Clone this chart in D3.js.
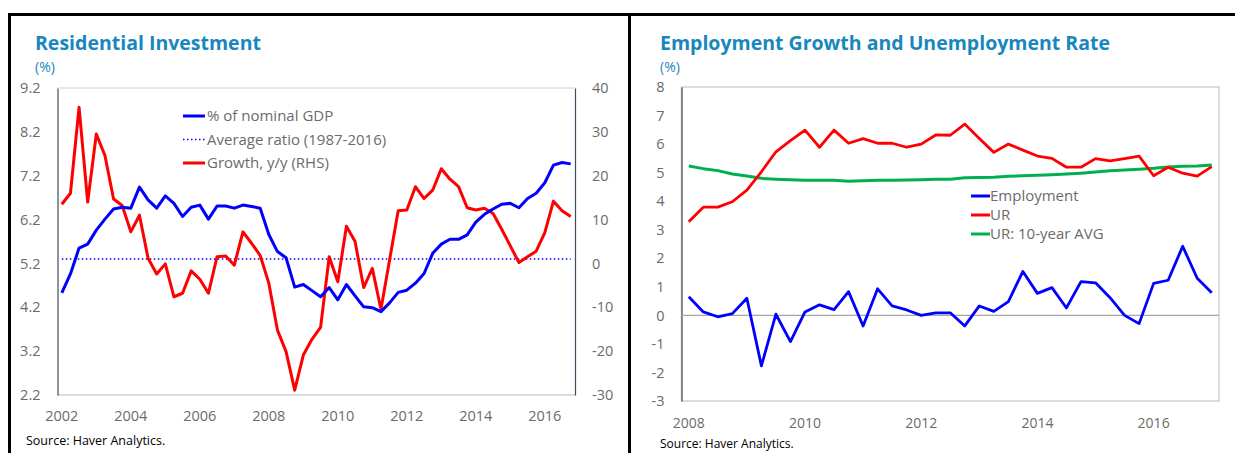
<!DOCTYPE html>
<html><head><meta charset="utf-8">
<script src="https://cdn.jsdelivr.net/npm/d3@7"></script>
<style>
html,body{margin:0;padding:0;background:#fff;}
svg{display:block;font-family:"Open Sans","Noto Sans",sans-serif;}
</style></head>
<body>
<svg id="c" width="1235" height="453"></svg>
<script>
// ---------- Data: Residential Investment (quarterly 2002Q1-2016Q4) ----------
const riTickYears = [2002,2004,2006,2008,2010,2012,2014,2016];
const riShareGDP = [4.53,4.96,5.55,5.64,5.96,6.21,6.44,6.48,6.46,6.94,6.65,6.46,6.74,6.57,6.27,6.48,
  6.53,6.21,6.51,6.51,6.46,6.53,6.50,6.46,5.86,5.47,5.33,4.66,4.72,4.58,4.44,4.65,
  4.37,4.72,4.46,4.21,4.19,4.10,4.30,4.54,4.59,4.75,4.97,5.43,5.64,5.75,5.75,5.85,
  6.14,6.32,6.44,6.55,6.57,6.47,6.68,6.80,7.04,7.44,7.50,7.47];
const riGrowth = [13.5,16.0,35.6,14.0,29.5,24.6,14.7,13.2,7.2,11.0,1.2,-2.4,-0.1,-7.6,-6.8,-1.7,
  -3.6,-6.8,1.55,1.7,-0.4,7.2,4.6,1.8,-4.5,-15.2,-20.1,-28.9,-20.9,-17.3,-14.6,1.5,
  -4.2,8.5,5.0,-5.5,-1.1,-10.5,0.8,12.0,12.2,17.5,14.8,16.7,21.6,19.2,17.5,12.7,
  12.2,12.6,11.4,7.8,4.0,0.2,1.5,2.8,7.0,14.2,12.0,10.7];
const riAverage = 5.3;
const riLeftTicks = [2.2,3.2,4.2,5.2,6.2,7.2,8.2,9.2];
const riRightTicks = [-30,-20,-10,0,10,20,30,40];
const riLegend = ["% of nominal GDP","Average ratio (1987-2016)","Growth, y/y (RHS)"];

// ---------- Data: Employment Growth and Unemployment Rate (2008Q1-2017Q1) ----------
const emTickYears = [2008,2010,2012,2014,2016];
const emEmployment = [0.65,0.12,-0.05,0.06,0.60,-1.77,0.04,-0.92,0.12,0.37,0.20,0.83,-0.37,0.93,0.33,0.19,
  0.0,0.09,0.09,-0.37,0.33,0.14,0.48,1.54,0.77,0.97,0.26,1.18,1.14,0.62,0.0,-0.29,
  1.12,1.23,2.42,1.30,0.79];
const emUR = [3.28,3.79,3.79,3.98,4.39,5.03,5.73,6.12,6.49,5.89,6.49,6.03,6.19,6.03,6.03,5.89,
  6.0,6.32,6.31,6.70,6.20,5.71,6.0,5.79,5.58,5.50,5.19,5.19,5.49,5.41,5.49,5.58,
  4.89,5.19,4.98,4.88,5.21];
const emURAvg = [5.23,5.14,5.07,4.95,4.88,4.80,4.77,4.75,4.73,4.73,4.73,4.70,4.72,4.73,4.73,4.74,
  4.75,4.77,4.77,4.82,4.83,4.84,4.87,4.89,4.91,4.93,4.95,4.98,5.02,5.07,5.09,5.12,
  5.15,5.20,5.22,5.23,5.27];
const emTicks = [-3,-2,-1,0,1,2,3,4,5,6,7,8];
const emLegend = ["Employment","UR","UR: 10-year AVG"];

// ---------- Styles ----------
const TITLE = "#1787bd", TICK = "#6b6b6b", DARK = "#3f4c5c", LIGHT = "#d0d0d0";
const BLUE = "#0000ff", RED = "#ff0000", GREEN = "#00b050";

const svg = d3.select("#c");

// quarter categories
function quarters(startYear, n){ const out=[]; for(let i=0;i<n;i++){ out.push((startYear+Math.floor(i/4))+"Q"+(i%4+1)); } return out; }

// outer frame
svg.append("line").attr("x1",8).attr("x2",1235).attr("y1",14.5).attr("y2",14.5).attr("stroke","#000").attr("stroke-width",3);
svg.append("line").attr("x1",9.5).attr("x2",9.5).attr("y1",13).attr("y2",453).attr("stroke","#000").attr("stroke-width",3);
svg.append("line").attr("x1",629.5).attr("x2",629.5).attr("y1",13).attr("y2",453).attr("stroke","#000").attr("stroke-width",3);

// ================= Left chart =================
(function(){
  const L=57.5, R=575, T=88, B=395;
  const cats = quarters(2002, riShareGDP.length);
  const x = d3.scaleBand().domain(cats).range([L,R]).padding(0);
  const cx = c => x(c)+x.bandwidth()/2;
  const yL = d3.scaleLinear().domain([2.2,9.2]).range([B,T]);
  const yR = d3.scaleLinear().domain([-30,40]).range([B,T]);

  svg.append("text").attr("x",35).attr("y",50).attr("fill",TITLE).attr("font-weight","bold").attr("font-size",19.5).text("Residential Investment");
  svg.append("text").attr("x",35).attr("y",72).attr("fill",TITLE).attr("font-size",14).text("(%)");

  // plot border
  svg.append("line").attr("x1",L).attr("x2",R).attr("y1",T).attr("y2",T).attr("stroke",LIGHT);
  svg.append("line").attr("x1",L).attr("x2",R).attr("y1",B).attr("y2",B).attr("stroke",LIGHT).attr("stroke-width",1.5);

  // axes
  const ax = svg.append("g").attr("transform",`translate(${L},0)`).call(d3.axisLeft(yL).tickValues(riLeftTicks).tickFormat(d3.format(".1f")).tickSize(0).tickPadding(17));
  const ar = svg.append("g").attr("transform",`translate(${R},0)`).call(d3.axisRight(yR).tickValues(riRightTicks).tickFormat(d=>d<0?"-"+Math.abs(d):d).tickSize(0).tickPadding(17));
  const xt = svg.append("g").attr("transform",`translate(0,${B})`).call(d3.axisBottom(x).tickValues(riTickYears.map(yv=>yv+"Q1")).tickFormat(d=>d.slice(0,4)).tickSize(0).tickPadding(16));
  [ax,ar,xt].forEach(g=>{ g.select(".domain").attr("stroke",DARK).attr("stroke-width",1.2); g.selectAll("text").attr("fill",TICK).attr("font-size",14.5).attr("font-family","'Open Sans','Noto Sans',sans-serif"); });
  xt.select(".domain").remove();

  // average line
  svg.append("line").attr("x1",cx(cats[0])).attr("x2",cx(cats[cats.length-1])).attr("y1",yL(riAverage)).attr("y2",yL(riAverage))
    .attr("stroke",BLUE).attr("stroke-width",1.5).attr("stroke-dasharray","1.5,2.5");

  const lineL = d3.line().x((d,i)=>cx(cats[i])).y(d=>yL(d));
  const lineR = d3.line().x((d,i)=>cx(cats[i])).y(d=>yR(d));
  svg.append("path").datum(riGrowth).attr("d",lineR).attr("fill","none").attr("stroke",RED).attr("stroke-width",3).attr("stroke-linejoin","round");
  svg.append("path").datum(riShareGDP).attr("d",lineL).attr("fill","none").attr("stroke",BLUE).attr("stroke-width",3).attr("stroke-linejoin","round");

  // legend
  const lg = svg.append("g");
  const styles = [{c:BLUE,w:3,d:null},{c:BLUE,w:1.5,d:"1.5,2.5"},{c:RED,w:3,d:null}];
  riLegend.forEach((t,i)=>{
    const yy = 116 + i*23.5;
    lg.append("line").attr("x1",183).attr("x2",205).attr("y1",yy).attr("y2",yy).attr("stroke",styles[i].c).attr("stroke-width",styles[i].w).attr("stroke-dasharray",styles[i].d);
    lg.append("text").attr("x",207).attr("y",yy).attr("dy","0.35em").attr("fill",TICK).attr("font-size",15).text(t);
  });

  svg.append("text").attr("x",26).attr("y",445).attr("fill","#000").attr("font-size",12.5).text("Source: Haver Analytics.");
})();

// ================= Right chart =================
(function(){
  const L=681.5, R=1219, T=87, B=401;
  const cats = quarters(2008, emUR.length);
  const x = d3.scaleBand().domain(cats).range([L,R]).padding(0);
  const cx = c => x(c)+x.bandwidth()/2;
  const y = d3.scaleLinear().domain([-3,8]).range([B,T]);

  svg.append("text").attr("x",660).attr("y",50).attr("fill",TITLE).attr("font-weight","bold").attr("font-size",19.5).text("Employment Growth and Unemployment Rate");
  svg.append("text").attr("x",660).attr("y",72).attr("fill",TITLE).attr("font-size",14).text("(%)");

  svg.append("rect").attr("x",L).attr("y",T).attr("width",R-L).attr("height",B-T).attr("fill","none").attr("stroke",LIGHT).attr("stroke-width",1.5);

  const ay = svg.append("g").attr("transform",`translate(${L},0)`).call(d3.axisLeft(y).tickValues(emTicks).tickFormat(d=>d<0?"-"+Math.abs(d):d).tickSize(0).tickPadding(17));
  ay.select(".domain").attr("stroke",DARK).attr("stroke-width",1.2);
  const xt = svg.append("g").attr("transform",`translate(0,${B})`).call(d3.axisBottom(x).tickValues(emTickYears.map(yv=>yv+"Q1")).tickFormat(d=>d.slice(0,4)).tickSize(0).tickPadding(17));
  xt.select(".domain").remove();
  ay.selectAll("text").attr("fill",TICK).attr("font-size",14.5).attr("font-family","'Open Sans','Noto Sans',sans-serif");
  xt.selectAll("text").attr("fill",TICK).attr("font-size",14).attr("font-family","'Open Sans','Noto Sans',sans-serif");

  // zero line
  svg.append("line").attr("x1",L).attr("x2",R).attr("y1",y(0)).attr("y2",y(0)).attr("stroke","#a6a6a6").attr("stroke-width",1.2);

  const line = d3.line().x((d,i)=>cx(cats[i])).y(d=>y(d));
  svg.append("path").datum(emURAvg).attr("d",line).attr("fill","none").attr("stroke",GREEN).attr("stroke-width",3).attr("stroke-linejoin","round");
  svg.append("path").datum(emUR).attr("d",line).attr("fill","none").attr("stroke",RED).attr("stroke-width",2.8).attr("stroke-linejoin","round");
  svg.append("path").datum(emEmployment).attr("d",line).attr("fill","none").attr("stroke",BLUE).attr("stroke-width",2.8).attr("stroke-linejoin","round");

  const cols=[BLUE,RED,GREEN];
  emLegend.forEach((t,i)=>{
    const yy = 196 + i*19;
    svg.append("line").attr("x1",971).attr("x2",990).attr("y1",yy).attr("y2",yy).attr("stroke",cols[i]).attr("stroke-width",3);
    svg.append("text").attr("x",990).attr("y",yy).attr("dy","0.35em").attr("fill",TICK).attr("font-size",15).text(t);
  });

  svg.append("text").attr("x",660).attr("y",448).attr("fill","#000").attr("font-size",12).text("Source: Haver Analytics.");
})();
</script>
</body></html>
